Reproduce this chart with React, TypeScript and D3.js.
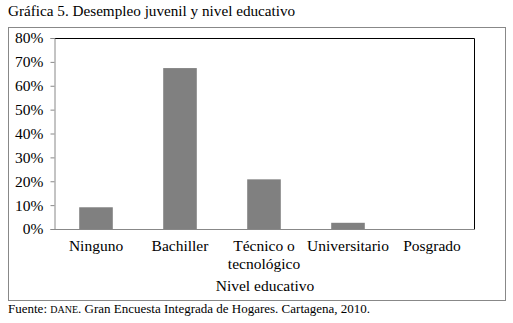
import { axisLeft, scaleBand, scaleLinear, select } from 'd3';
import { useEffect, useRef } from 'react';

const categories = ['Ninguno', 'Bachiller', 'Técnico o tecnológico', 'Universitario', 'Posgrado'];
const categoryLines = [['Ninguno'], ['Bachiller'], ['Técnico o', 'tecnológico'], ['Universitario'], ['Posgrado']];
const values = [9.1, 67.4, 20.8, 2.6, 0];
const yTicks = [0, 10, 20, 30, 40, 50, 60, 70, 80];

const font = 'Liberation Serif, Times New Roman, Times, serif';

export default function App() {
  const width = 513;
  const height = 323;
  const margin = { top: 38, left: 54, right: 474, bottom: 229 };
  const gy = useRef<SVGGElement>(null);

  const xScale = scaleBand<string>()
    .domain(categories)
    .range([margin.left, margin.right])
    .paddingInner(0.6)
    .paddingOuter(0.3);

  const yScale = scaleLinear().domain([0, 80]).range([margin.bottom, margin.top]);

  useEffect(() => {
    const g = select(gy.current);
    g.call(
      axisLeft(yScale)
        .tickValues(yTicks)
        .tickSize(4)
        .tickPadding(7)
        .tickFormat((d) => `${d}%`),
    );
    g.attr('font-family', null).attr('font-size', null);
    g.select('.domain').attr('stroke', '#888');
    g.selectAll('.tick line').attr('stroke', '#888');
    g.selectAll('.tick text').style('font-size', '15.5px').attr('fill', '#000');
  }, []);

  return (
    <svg
      width={width}
      height={height}
      style={{ position: 'absolute', left: 0, top: 0, background: '#fff', fontFamily: font }}>
      <text x={8} y={16} fontSize={15.2} fill='#000'>
        Gráfica 5. Desempleo juvenil y nivel educativo
      </text>
      <rect x={8.5} y={27.5} width={497} height={273} fill='none' stroke='#888' />
      {/* plot frame: top and right in black */}
      <path
        d={`M${margin.left},${margin.top + 0.5}H${margin.right + 0.5}V${margin.bottom}`}
        fill='none'
        stroke='#000'
      />
      <line
        x1={margin.left}
        x2={margin.right + 1}
        y1={margin.bottom + 0.5}
        y2={margin.bottom + 0.5}
        stroke='#888'
      />
      <g>
        {categories.map((c, i) => (
          <rect
            key={c}
            x={xScale(c)}
            y={yScale(values[i])}
            width={xScale.bandwidth()}
            height={margin.bottom - yScale(values[i])}
            fill='#808080'
          />
        ))}
      </g>
      <g
        ref={gy}
        transform={`translate(${margin.left + 0.5}, 0)`}></g>
      <g fontSize={15.5} fill='#000' textAnchor='middle'>
        {categories.map((c, i) =>
          categoryLines[i].map((l, j) => (
            <text key={c + j} x={xScale(c)! + xScale.bandwidth() / 2} y={251 + j * 18}>
              {l}
            </text>
          )),
        )}
        <text x={265} y={291}>
          Nivel educativo
        </text>
      </g>
      <text x={8} y={313} fontSize={13} fill='#000'>
        Fuente: <tspan fontSize={10}>DANE</tspan>. Gran Encuesta Integrada de Hogares. Cartagena, 2010.
      </text>
    </svg>
  );
}
